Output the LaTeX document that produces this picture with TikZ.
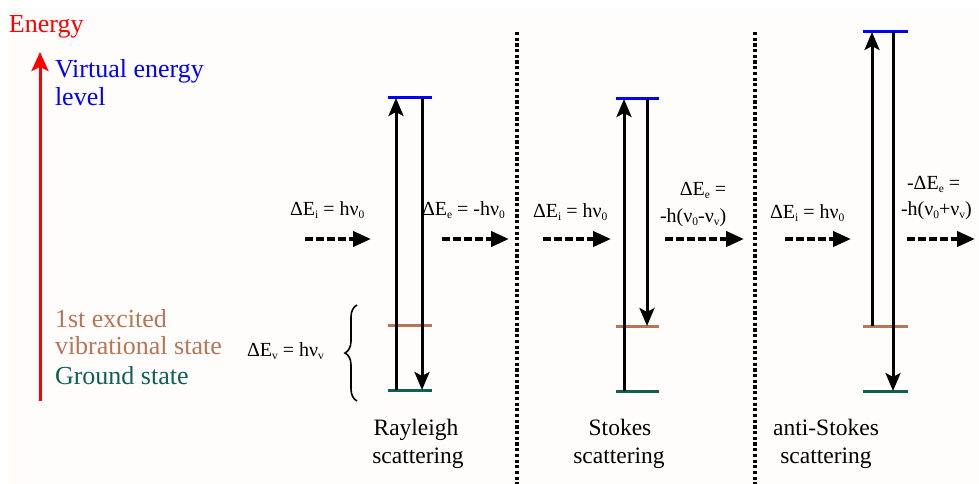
\documentclass[tikz,border=0pt]{standalone}
\usepackage{fontspec}
\setmainfont{Liberation Serif}
\usetikzlibrary{arrows.meta,decorations.pathreplacing}
\definecolor{vblue}{RGB}{0,0,255}
\definecolor{exbrown}{RGB}{184,118,86}
\definecolor{gteal}{RGB}{16,96,82}
\definecolor{bgcol}{RGB}{254,253,251}
\newcommand\sbs[1]{\raisebox{-3pt}{\fontsize{11.5}{12}\selectfont #1}}
\begin{document}
\begin{tikzpicture}[x=1pt,y=-1pt,
  every node/.style={inner sep=0pt,outer sep=0pt},
  bigtxt/.style={font=\fontsize{26}{28}\selectfont},
  midtxt/.style={font=\fontsize{23.5}{26}\selectfont},
  eqtxt/.style={font=\fontsize{20}{22}\selectfont},
  lvl/.style={line width=3pt},
  vbl/.style={lvl,vblue},
  ebr/.style={lvl,exbrown},
  gtl/.style={lvl,gteal},
  transarr/.style={line width=3pt,black,-{Stealth[length=18pt,width=15pt,inset=4pt]}},
  photonarr/.style={line width=4pt,black,dash pattern=on 8pt off 3pt,-{Triangle[length=18pt,width=15pt]}},
  sepline/.style={line width=3.3pt,black,dash pattern=on 3.2pt off 2.5pt}]
\useasboundingbox (0,0) rectangle (979,484);
\fill[white] (0,0) rectangle (979,484);
\fill[bgcol] (8,8) rectangle (979,484);

% energy axis
\node[bigtxt,red,anchor=base west] (energy) at (9,33) {Energy};
\coordinate (axB) at (40,401);
\coordinate (axT) at (40,52);
\draw[line width=3pt,red,-{Stealth[length=19pt,width=17pt,inset=4pt]}] (axB) -- (axT);
\node[bigtxt,vblue,anchor=base west] (virt1) at (55,78) {Virtual energy};
\node[bigtxt,vblue,anchor=base west] (virt2) at (55,106) {level};
\node[bigtxt,exbrown,anchor=base west] (exc1) at (55,327) {1st excited};
\node[bigtxt,exbrown,anchor=base west] (exc2) at (55,354) {vibrational state};
\node[bigtxt,gteal,anchor=base west] (gnd) at (55,384) {Ground state};
\node[eqtxt,anchor=base west] (dev) at (247,356) {ΔE\sbs{v} = hν\sbs{v}};
\coordinate (brB) at (357,401);
\coordinate (brT) at (357,305);
\draw[line width=1.6pt,decorate,decoration={brace,amplitude=12pt}] (brB) -- (brT);

% separators
\coordinate (s1T) at (517,32);
\coordinate (s1B) at (517,484);
\coordinate (s2T) at (755,32);
\coordinate (s2B) at (755,484);
\draw[sepline] (s1T) -- (s1B);
\draw[sepline] (s2T) -- (s2B);

% Rayleigh
\coordinate (rVl) at (388,98); \coordinate (rVr) at (432,98);
\coordinate (rEl) at (388,325); \coordinate (rEr) at (432,325);
\coordinate (rGl) at (388,390); \coordinate (rGr) at (432,390);
\draw[vbl] (rVl) -- (rVr);
\draw[ebr] (rEl) -- (rEr);
\draw[gtl] (rGl) -- (rGr);
\coordinate (rUb) at (396,390); \coordinate (rUt) at (396,98);
\coordinate (rDt) at (422,98); \coordinate (rDb) at (422,390);
\draw[transarr] (rUb) -- (rUt);
\draw[transarr] (rDt) -- (rDb);
\node[eqtxt,anchor=base west] (rin) at (290,215) {ΔE\sbs{i} = hν\sbs{0}};
\node[eqtxt,anchor=base west] (rout) at (422,215) {ΔE\sbs{e} = -hν\sbs{0}};
\coordinate (rinA) at (305,239); \coordinate (rinB) at (371,239);
\coordinate (routA) at (442,239); \coordinate (routB) at (509,239);
\draw[photonarr] (rinA) -- (rinB);
\draw[photonarr] (routA) -- (routB);
\node[midtxt,anchor=base] (rl1) at (416,435) {Rayleigh};
\node[midtxt,anchor=base] (rl2) at (418,463) {scattering};

% Stokes
\coordinate (sVl) at (616,99); \coordinate (sVr) at (659,99);
\coordinate (sEl) at (616,326); \coordinate (sEr) at (659,326);
\coordinate (sGl) at (616,391); \coordinate (sGr) at (659,391);
\draw[vbl] (sVl) -- (sVr);
\draw[ebr] (sEl) -- (sEr);
\draw[gtl] (sGl) -- (sGr);
\coordinate (sUb) at (624,391); \coordinate (sUt) at (624,99);
\coordinate (sDt) at (647,99); \coordinate (sDb) at (647,326);
\draw[transarr] (sUb) -- (sUt);
\draw[transarr] (sDt) -- (sDb);
\node[eqtxt,anchor=base west] (sin) at (533,217) {ΔE\sbs{i} = hν\sbs{0}};
\node[eqtxt,anchor=base] (sout1) at (703,195) {ΔE\sbs{e} =};
\node[eqtxt,anchor=base west] (sout2) at (660,222) {-h(ν\sbs{0}-ν\sbs{v})};
\coordinate (sinA) at (543,239); \coordinate (sinB) at (611,239);
\coordinate (soutA) at (665,239); \coordinate (soutB) at (744,239);
\draw[photonarr] (sinA) -- (sinB);
\draw[photonarr] (soutA) -- (soutB);
\node[midtxt,anchor=base] (sl1) at (620,435) {Stokes};
\node[midtxt,anchor=base] (sl2) at (619,463) {scattering};

% anti-Stokes
\coordinate (aVl) at (863,32); \coordinate (aVr) at (908,32);
\coordinate (aEl) at (863,326); \coordinate (aEr) at (908,326);
\coordinate (aGl) at (863,391); \coordinate (aGr) at (908,391);
\draw[vbl] (aVl) -- (aVr);
\draw[ebr] (aEl) -- (aEr);
\draw[gtl] (aGl) -- (aGr);
\coordinate (aUb) at (872,326); \coordinate (aUt) at (872,32);
\coordinate (aDt) at (893,32); \coordinate (aDb) at (893,391);
\draw[transarr] (aUb) -- (aUt);
\draw[transarr] (aDt) -- (aDb);
\node[eqtxt,anchor=base west] (ain) at (770,218) {ΔE\sbs{i} = hν\sbs{0}};
\node[eqtxt,anchor=base west] (aout1) at (907,189) {-ΔE\sbs{e} =};
\node[eqtxt,anchor=base west] (aout2) at (901,215) {-h(ν\sbs{0}+ν\sbs{v})};
\coordinate (ainA) at (785,239); \coordinate (ainB) at (851,239);
\coordinate (aoutA) at (907,239); \coordinate (aoutB) at (975,239);
\draw[photonarr] (ainA) -- (ainB);
\draw[photonarr] (aoutA) -- (aoutB);
\node[midtxt,anchor=base] (al1) at (826,435) {anti-Stokes};
\node[midtxt,anchor=base] (al2) at (826,463) {scattering};
\end{tikzpicture}
\end{document}
